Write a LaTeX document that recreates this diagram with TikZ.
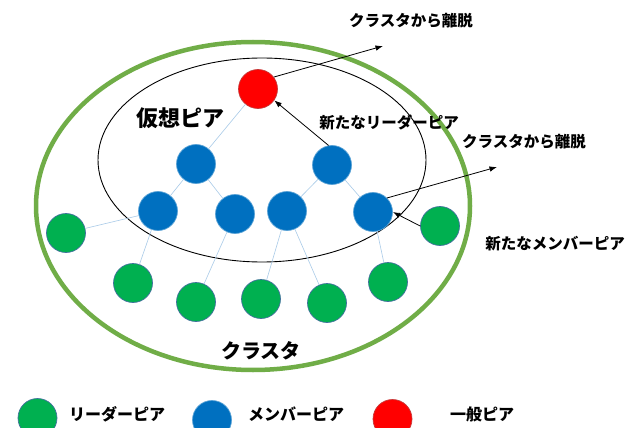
\documentclass[tikz,border=0pt]{standalone}
\usepackage{fontspec}
\newfontfamily\jp{Noto Sans CJK JP}
\usetikzlibrary{arrows.meta}
\definecolor{gring}{HTML}{70AD47}
\definecolor{gnode}{HTML}{00B050}
\definecolor{bnode}{HTML}{0070C0}
\definecolor{rnode}{HTML}{FF0000}
\definecolor{rim}{HTML}{41719C}
\definecolor{linkc}{HTML}{A9CBE8}
\begin{document}
\begin{tikzpicture}[x=1pt,y=-1pt,
 peer/.style={circle,minimum size=39pt,inner sep=0pt,line width=0.7pt},
 leader/.style={peer,fill=gnode,draw=rim},
 member/.style={peer,fill=bnode,draw=bnode!65!white},
 general/.style={peer,fill=rnode,draw=rnode!55!gray},
 linkline/.style={draw=linkc,line width=0.6pt},
 arr/.style={draw=black,line width=0.8pt,-{Latex[length=7.5pt,width=5.5pt]}},
 lbl/.style={font=\jp\bfseries\fontsize{15.5}{18}\selectfont,inner sep=0pt},
 big/.style={font=\jp\bfseries\fontsize{22}{26}\selectfont,inner sep=0pt},
]
\fill[white] (0,0) rectangle (643,428);
\useasboundingbox (0,0) rectangle (643,428);
% cluster and virtual peer
\draw[gring,line width=4.5pt] (253,206) ellipse [x radius=217,y radius=164];
\draw[black,line width=0.9pt] (262,160) ellipse [x radius=164,y radius=102];
% peers
\node[general] (red) at (258,89) {};
\node[member] (b1) at (196,164) {};
\node[member] (b2) at (332,165) {};
\node[member] (m1) at (158,211) {};
\node[member] (m2) at (235,214) {};
\node[member] (m3) at (287,211) {};
\node[member] (m4) at (373,212) {};
\node[leader] (g1) at (66,233) {};
\node[leader] (g2) at (133,283) {};
\node[leader] (g3) at (196,302) {};
\node[leader] (g4) at (261,299) {};
\node[leader] (g5) at (327,303) {};
\node[leader] (g6) at (388,282) {};
\node[leader] (g7) at (440,226) {};
% links
\draw[linkline] (red) -- (b1);
\draw[linkline] (b1) -- (m1);
\draw[linkline] (b1) -- (m2);
\draw[linkline] (b2) -- (m3);
\draw[linkline] (b2) -- (m4);
\draw[linkline] (m1) -- (g1);
\draw[linkline] (m1) -- (g2);
\draw[linkline] (m2) -- (g3);
\draw[linkline] (m3) -- (g4);
\draw[linkline] (m3) -- (g5);
\draw[linkline] (m4) -- (g6);
% arrows
\coordinate (out1) at (383,46);
\coordinate (out2) at (497,167);
\draw[arr] (red.37) -- (out1);
\draw[arr] (b2.100) -- (red.-35);
\draw[arr] (m4.45) -- (out2);
\draw[arr] (g7.west) -- (m4.east);
% labels
\node[lbl] (t1) at (411,21) {クラスタから離脱};
\node[lbl] (t2) at (389,122) {新たなリーダーピア};
\node[lbl] (t3) at (524,142) {クラスタから離脱};
\node[lbl] (t4) at (555,244) {新たなメンバーピア};
\node[big] (vp) at (180,118) {仮想ピア};
\node[font=\jp\bfseries\fontsize{20}{24}\selectfont,inner sep=0pt] (cl) at (261,351) {クラスタ};
% legend
\node[leader] (lg) at (37.5,418) {};
\node[member] (lb) at (212,420) {};
\node[general] (lr) at (392.5,419) {};
\node[lbl,font=\jp\bfseries\fontsize{16}{18}\selectfont] (tg) at (117,414) {リーダーピア};
\node[lbl,font=\jp\bfseries\fontsize{16}{18}\selectfont] (tb) at (296,414) {メンバーピア};
\node[lbl,font=\jp\bfseries\fontsize{16}{18}\selectfont] (tr) at (482,414) {一般ピア};
\end{tikzpicture}
\end{document}
